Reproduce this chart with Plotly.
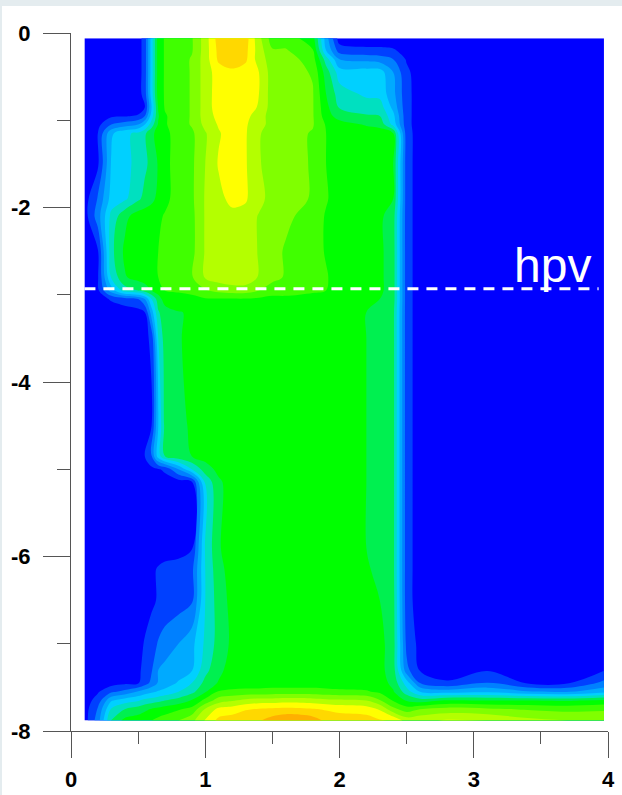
import plotly.graph_objects as go

x_vals = [0.1,0.2,0.3,0.4,0.5,0.55,0.6,0.65,0.7,0.8,0.9,1.0,1.1,1.2,1.3,1.4,1.5,1.6,1.8,1.9,2.0,2.2,2.3,2.4,2.5,2.6,2.8,3.1,3.4,3.7,3.97]
y_vals = [-0.06,-0.2,-0.3,-0.45,-0.7,-0.85,-0.95,-1.05,-1.15,-1.5,-1.9,-2.1,-2.5,-2.8,-2.95,-3.05,-3.2,-3.5,-4.5,-4.85,-5.0,-5.15,-5.9,-6.15,-6.5,-7.0,-7.3,-7.45,-7.55,-7.65,-7.75,-7.88]

z_rows = [
 [0,0,0,0,0,1,4,7,7.6,8,8.4,10,12,12.4,12,9.8,8,8,7,3,0,0,0,0,0,0,0,0,0,0,0],
 [0,0,0,0,0,1,4,7,7.6,8,8.4,10,11.8,12.3,11.8,10,8.6,8.6,7.6,3.5,1,.7,.7,.6,.2,0,0,0,0,0,0],
 [0,0,0,0,0,1,4,7,7.6,8,8.6,10,11.7,12,11.7,10,9,9,8,5,2.5,2.2,2,1.5,.4,0,0,0,0,0,0],
 [0,0,0,0,0,1,4,7,7.6,8,8.6,10,11,11.3,11,10.5,9,9,8.4,6,4,4,4,2.5,.7,0,0,0,0,0,0],
 [0,0,0,0,0,1,4,7,7.6,8,8.6,10,11,11.4,11,10.5,9,9,8.6,6.5,5,4.3,4.2,2.8,.8,0,0,0,0,0,0],
 [0,0,0,0,0,.5,3.5,6.6,7.6,8,8.6,10,11,11.4,11,10.4,9,9,8.6,6.8,5.4,5,5,3.2,.8,0,0,0,0,0,0],
 [0,0,.3,.4,.6,1.5,4,6.4,7.4,8,8.6,10,10.8,11.2,10.8,10,9,9,8.6,7,6,5.6,5.5,3.8,.8,0,0,0,0,0,0],
 [0,.2,1.5,2,2.5,3.5,5,6.6,7.4,8,8.6,9.8,10.6,11,10.6,10,9,9,8.6,7.4,7,6.4,6.2,4.2,.8,0,0,0,0,0,0],
 [0,.5,3.3,4.3,4.7,5.3,6.3,6.8,7.2,8,8.3,9.4,10.4,11,10.6,9.6,9,9,8.4,7.5,7,7,7,6.5,.9,0,0,0,0,0,0],
 [0,.3,3.6,4.3,4.7,5.3,5.8,6.6,7.2,8,8.3,9.5,10.6,11.2,10.6,9.6,9,9,8.4,7.5,7,7,7,6.5,.9,0,0,0,0,0,0],
 [0,1.6,3.9,4.3,5.3,5.8,6.2,6.8,7.2,8,8.3,9.6,10.2,10.8,10.6,9.9,9,9,8.4,7.6,7,7,6.8,6.5,.9,0,0,0,0,0,0],
 [0,2,4.8,6.2,7,7.1,7.2,7.3,7.6,8,8.2,9.6,10,10.2,10.2,9.4,9,8.7,8.1,7.4,7,7,6.7,6,.9,0,0,0,0,0,0],
 [0,.4,5.2,6.7,7.1,7.2,7.4,7.5,7.8,8,8.2,9.6,10,10.2,10.2,9.4,8.8,8.4,8,7.4,7,7,6.7,6,.9,0,0,0,0,0,0],
 [0,.4,4.6,6.4,6.9,7,7.2,7.5,7.8,8,8.4,9.6,10,10.2,10.2,9.4,8.8,8.4,8,7.6,7,7,6.7,6,.9,0,0,0,0,0,0],
 [0,.3,3,5,5.5,6,6.5,7,7.5,7.6,7.8,8.4,8.8,9,9,8.5,8,8,7.7,7.5,7,7,6.7,6,.9,0,0,0,0,0,0],
 [0,.1,.6,1,1.5,2.5,4.5,6,7,7.2,7.2,7.4,7.4,7.4,7.4,7.3,7.2,7.2,7,7,7,6.8,6.5,6,.9,0,0,0,0,0,0],
 [0,0,0,0,.1,.5,3,5.4,6,6.45,6.6,7,7,7,7,7,7,7,7,7,7,6.5,6.2,5.8,.9,0,0,0,0,0,0],
 [0,0,0,0,0,.1,.8,4.5,6,6.4,6.8,7,7,7,7,7,7,7,7,7,7,6.5,6.2,5.8,.9,0,0,0,0,0,0],
 [0,0,0,0,0,0,.5,3.5,5.8,6.3,6.6,7,7,7,7,7,7,7,7,7,7,6.5,6.2,5.8,.9,0,0,0,0,0,0],
 [0,0,0,0,.2,.5,1.6,4,5.5,6.2,6.5,6.9,7,7,7,7,7,7,7,7,7,6.5,6.2,5.8,.9,0,0,0,0,0,0],
 [0,0,0,0,0,0,.2,.4,.7,2.5,4.5,6,6.8,7,7,7,7,7,7,7,7,6.5,6.2,5.8,.9,0,0,0,0,0,0],
 [0,0,0,0,0,0,0,0,0,0,.3,4.7,6.3,7,7,7,7,7,7,7,7,6.5,6.2,5.8,.9,0,0,0,0,0,0],
 [0,0,0,0,0,0,0,0,0,.1,.4,4.6,6.4,7,7,7,7,7,7,7,7,6.5,6.2,5.8,.9,0,0,0,0,0,0],
 [0,0,0,0,0,0,.3,.6,.8,.9,1.2,4.5,6.2,6.9,7,7,7,7,7,7,7,6.6,6.3,5.8,.9,0,0,0,0,0,0],
 [0,0,0,0,0,0,.3,.6,.9,1,1.3,4.5,6,6.8,7,7,7,7,7,7,7,6.7,6.5,5.9,.9,0,0,0,0,0,0],
 [0,0,0,0,.1,.6,1,1.6,1.9,2.5,3.2,4.7,5.9,6.7,7,7,7,7,7,7,7,7,6.8,6,1.2,.2,0,0,0,0,0],
 [0,0,0,0,.3,.8,1.4,2.5,2.8,3,3.4,5.2,6.2,7,7,7,7,7,7,7,7,7,6.8,6,1.8,.4,.1,.4,0,0,.4],
 [0,0,.1,.3,.4,1,1.8,2.6,3,3.6,4.5,5.8,6.6,7,7,7,7,7,7,7,7,7,7,6.2,4,1.5,.6,1.6,.4,.4,1.8],
 [0,.4,1.3,1.8,2.6,3,3.3,3.6,3.8,4.5,5.2,6.4,7.6,7.7,7.8,7.8,7.9,7.9,7.9,7.8,7.7,7.6,7.3,6.6,5,3.5,3.1,3.3,2.6,2.4,3.2],
 [0,.9,3.4,4,4.4,4.8,5,5.2,5.5,5.9,6.6,7.8,9,9.4,9.8,10,10,10.1,10,9.8,9.7,9.5,8.6,7.4,6.4,6,6.6,6.5,6.5,6.4,6.7],
 [0,1.6,4.6,5.5,6,6.3,6.6,6.8,7,7.4,7.8,9.6,10.8,11,11.4,11.6,11.7,11.8,11.6,11.4,11.2,11,10.4,8.8,8,8.5,8.9,8.7,8.4,8.2,8.4],
 [0,2,5.6,6.8,7,7.2,7.5,7.8,8,8.5,9.2,10.6,11.8,12,12.4,12.4,13,13.4,13,12.3,12.1,12,11.6,11.4,10.1,10.3,10.6,10.5,9.8,9.5,9],
]

level_colors = ["#0000ff","#0040ff","#0080ff","#00aaff","#00d0ff","#00e0c0","#00f050","#00ff00",
                "#40ff00","#80ff00","#b4ff00","#ffff00","#ffd800","#ffb000"]

y_ticks = [0,-2,-4,-6,-8]
y_labels = ["0","-2","-4","-6","-8"]
x_ticks = [0,1,2,3,4]
x_labels = ["0","1","2","3","4"]
line_x = [0.1,3.93]
line_y = [-2.93,-2.93]

n = len(level_colors)-1
scale = [[i/n,c] for i,c in enumerate(level_colors)]

fig = go.Figure()
fig.add_trace(go.Contour(x=x_vals,y=y_vals,z=z_rows,zmin=0,zmax=n,colorscale=scale,showscale=False,
    autocontour=False,contours=dict(start=0.5,end=n-0.5,size=1,coloring="fill",showlines=False),
    line=dict(width=0,smoothing=1),hoverinfo="skip"))
fig.add_trace(go.Scatter(x=line_x,y=line_y,mode="lines",line=dict(color="white",width=3,dash="11px,8px"),hoverinfo="skip"))

axfont = dict(family="Liberation Sans",size=22,color="black",weight=700)
axcol = "#555555"
fig.update_xaxes(range=[0,4],tickvals=x_ticks,ticktext=x_labels,ticks="outside",ticklen=26,tickwidth=1,tickcolor=axcol,
    showline=True,linecolor=axcol,linewidth=1,showgrid=False,zeroline=False,tickfont=axfont,ticklabelstandoff=3,automargin=False,
    minor=dict(tickvals=[0.5,1.5,2.5,3.5],ticks="outside",ticklen=12,tickwidth=1,tickcolor=axcol,showgrid=False))
fig.update_yaxes(range=[-8,0],tickvals=y_ticks,ticktext=y_labels,ticks="outside",ticklen=27,tickwidth=1,tickcolor=axcol,
    showline=True,linecolor=axcol,linewidth=1,showgrid=False,zeroline=False,tickfont=axfont,ticklabelstandoff=8,automargin=False,
    minor=dict(tickvals=[-1,-3,-5,-7],ticks="outside",ticklen=13,tickwidth=1,tickcolor=axcol,showgrid=False))
fig.add_annotation(x=3.59,y=-2.66,text="hpv",showarrow=False,xref="x",yref="y",
    font=dict(family="Liberation Sans",size=48,color="white"))
fig.update_layout(width=620,height=789,margin=dict(l=69,r=14,t=27,b=64,autoexpand=False),paper_bgcolor="white",plot_bgcolor="white",showlegend=False)
fig.write_html("out.html",post_script="document.body.style.margin='6px 0 0 2px';document.body.style.background='#e4ecef';document.body.style.overflow='hidden';")
